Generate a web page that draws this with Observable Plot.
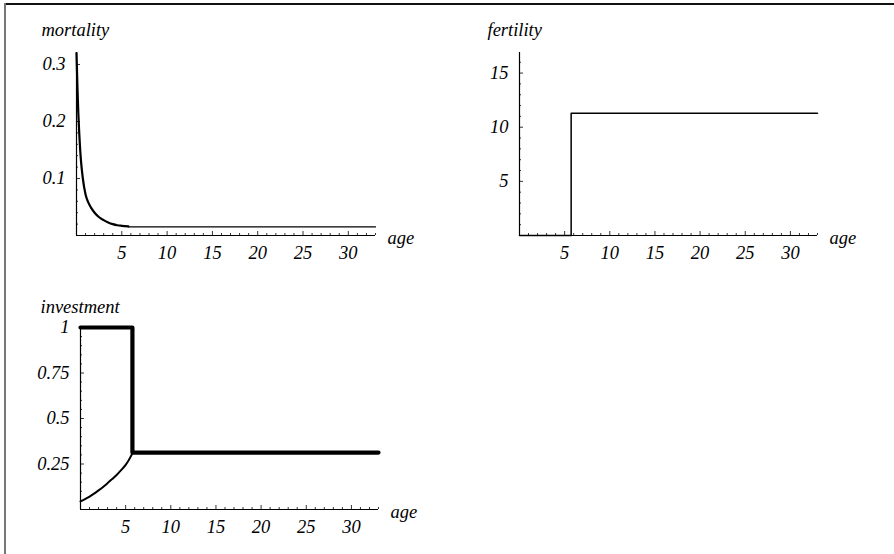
<!DOCTYPE html>
<html>
<head>
<meta charset="utf-8">
<script src="https://cdn.jsdelivr.net/npm/d3@7"></script>
<script src="https://cdn.jsdelivr.net/npm/@observablehq/plot@0.6"></script>
<style>
  body { margin: 0; background: #fff; }
  #page { position: relative; width: 894px; height: 554px; overflow: hidden; background: #fff; }
  #page .edge-top { position: absolute; left: 4px; right: 0; top: 3px; height: 1.5px; background: #111; }
  #page .edge-left { position: absolute; left: 4px; top: 3px; bottom: 0; width: 2px; background: #777; }
  .panel { position: absolute; }
  .panel svg { overflow: visible; }
</style>
</head>
<body>
<div id="page">
  <div class="edge-top"></div>
  <div class="edge-left"></div>
</div>
<script>
// ---- data -------------------------------------------------------------
const ageDomain = [0, 33];
const ageTicks = [5, 10, 15, 20, 25, 30];
const ageMinorTicks = d3.range(1, 34).filter(a => a % 5 !== 0);

// mortality: juvenile decline, then adult constant
const mortalityJuvAge  = [0, 0.1, 0.2, 0.3, 0.4, 0.5, 0.7, 1.0, 1.3, 1.6, 2.0, 2.5, 3.0, 3.5, 4.0, 4.5, 5.0, 5.72];
const mortalityJuvRate = [0.32, 0.262, 0.215, 0.18, 0.152, 0.13, 0.1, 0.072, 0.058, 0.049, 0.04, 0.032, 0.027, 0.023, 0.02, 0.018, 0.017, 0.016];
const mortalityAdultAge  = [5.72, 33];
const mortalityAdultRate = [0.015, 0.015];
const mortalityTicks = [0.1, 0.2, 0.3];

// fertility: zero before maturity, constant afterwards
const fertilityAge   = [0, 5.72, 5.72, 33];
const fertilityValue = [0, 0, 11.3, 11.3];
const fertilityTicks = [5, 10, 15];

// investment: allocation (thick) and juvenile curve (thin)
const allocationAge   = [0, 5.75, 5.75, 33];
const allocationValue = [1, 1, 0.313, 0.313];
const juvenileAge   = [0, 0.5, 1, 1.5, 2, 2.5, 3, 3.5, 4, 4.5, 5, 5.5, 5.75];
const juvenileValue = [0.045, 0.057, 0.071, 0.087, 0.105, 0.124, 0.145, 0.167, 0.19, 0.216, 0.245, 0.285, 0.31];
const investmentTicks = [0.25, 0.5, 0.75, 1];
const investmentTickLabels = ["0.25", "0.5", "0.75", "1"];

// ---- drawing ----------------------------------------------------------
const zip = (xs, ys) => xs.map((x, i) => ({age: x, value: ys[i]}));
const font = "'Liberation Serif', 'Times New Roman', serif";
const fs = 18.5;
const textStyle = {fontSize: fs, fontStyle: "italic", fontFamily: font};

function panel({left, top, width, height, ml, mr, mt, mb, yDomain, yTicks, yMinor, yFormat, title, titleDx, titleDy, marks}) {
  const plotW = width - ml - mr;
  const plotH = height - mt - mb;
  const chart = Plot.plot({
    width, height,
    marginLeft: ml, marginRight: mr, marginTop: mt, marginBottom: mb,
    x: {domain: ageDomain, axis: null},
    y: {domain: yDomain, axis: null},
    style: {fontFamily: font, fontStyle: "italic", fontSize: fs + "px", background: "transparent", color: "#000"},
    marks: [
      // axis lines
      Plot.ruleY([0], {stroke: "#000", strokeWidth: 1.2}),
      Plot.ruleX([0], {stroke: "#000", strokeWidth: 1.2}),
      // inward ticks
      Plot.tickX(ageMinorTicks, {x: d => d, insetTop: plotH - 2, strokeWidth: 0.8}),
      Plot.tickX(ageTicks, {x: d => d, insetTop: plotH - 4, strokeWidth: 0.8}),
      Plot.tickY(yMinor, {y: d => d, insetRight: plotW - 2, strokeWidth: 0.8}),
      Plot.tickY(yTicks, {y: d => d, insetRight: plotW - 4, strokeWidth: 0.8}),
      // curves
      ...marks,
      // tick labels
      Plot.axisX(ageTicks, {label: null, tickSize: 0, tickPadding: 10, ...textStyle}),
      Plot.axisY(yTicks, {label: null, tickSize: 0, tickPadding: 11, tickFormat: yFormat, ...textStyle}),
      // axis titles
      Plot.text([title], {frameAnchor: "top-left", lineAnchor: "middle", dx: titleDx, dy: titleDy, textAnchor: "start", ...textStyle}),
      Plot.text([{age: ageDomain[1], value: 0, label: "age"}], {x: "age", y: "value", text: "label", dx: 12, dy: 3, textAnchor: "start", ...textStyle})
    ]
  });
  const div = document.createElement("div");
  div.className = "panel";
  div.style.left = left + "px";
  div.style.top = top + "px";
  div.appendChild(chart);
  document.getElementById("page").appendChild(div);
}

panel({
  left: 0, top: 0, width: 440, height: 260, ml: 76, mr: 65, mt: 52, mb: 25,
  yDomain: [0, 0.321], yTicks: mortalityTicks,
  yMinor: d3.range(0.02, 0.32, 0.02).filter(v => Math.abs(v * 10 - Math.round(v * 10)) > 1e-6),
  yFormat: d => d.toFixed(1), title: "mortality", titleDx: -35, titleDy: -22,
  marks: [
    Plot.line(zip(mortalityJuvAge, mortalityJuvRate), {x: "age", y: "value", strokeWidth: 2.2, curve: "monotone-x"}),
    Plot.line(zip(mortalityAdultAge, mortalityAdultRate), {x: "age", y: "value", strokeWidth: 1.2})
  ]
});

panel({
  left: 440, top: 0, width: 454, height: 260, ml: 79, mr: 77, mt: 52, mb: 25,
  yDomain: [0, 16.9], yTicks: fertilityTicks,
  yMinor: d3.range(1, 17).filter(v => v % 5 !== 0),
  yFormat: d => String(d), title: "fertility", titleDx: -32, titleDy: -22,
  marks: [
    Plot.line(zip(fertilityAge, fertilityValue), {x: "age", y: "value", strokeWidth: 1.5})
  ]
});

panel({
  left: 0, top: 260, width: 440, height: 294, ml: 80, mr: 62, mt: 67, mb: 45,
  yDomain: [0, 1], yTicks: investmentTicks,
  yMinor: d3.range(0.05, 1, 0.05).filter(v => Math.abs(v * 4 - Math.round(v * 4)) > 1e-6),
  yFormat: d => investmentTickLabels[investmentTicks.indexOf(d)], title: "investment", titleDx: -40, titleDy: -20,
  marks: [
    Plot.line(zip(juvenileAge, juvenileValue), {x: "age", y: "value", strokeWidth: 2, curve: "monotone-x"}),
    Plot.line(zip(allocationAge, allocationValue), {x: "age", y: "value", strokeWidth: 4.2})
  ]
});
</script>
</body>
</html>
